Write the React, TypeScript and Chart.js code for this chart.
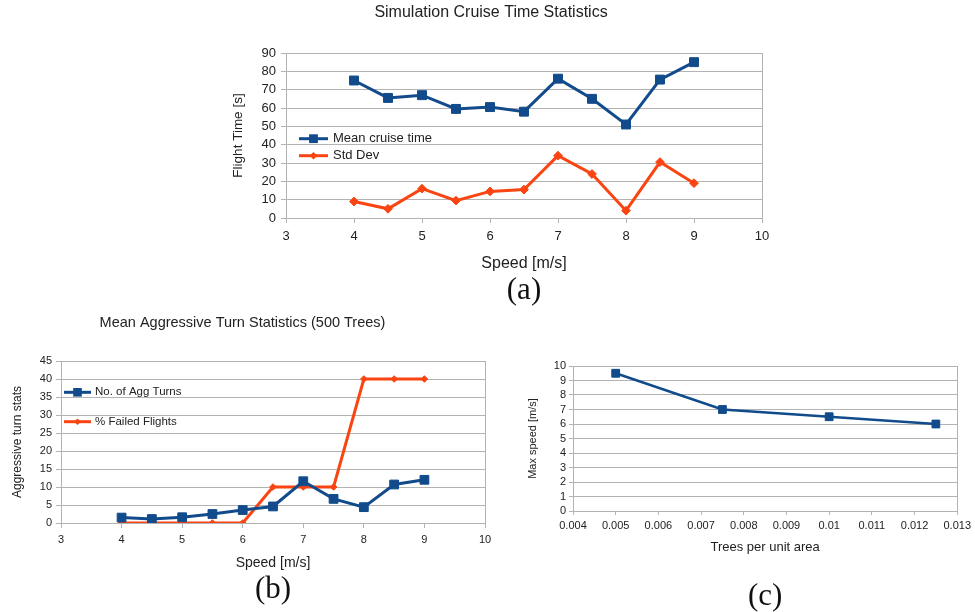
import React, { useEffect, useRef } from 'react';
import { Chart, registerables } from 'chart.js';

Chart.register(...registerables);

// ---------- data ----------
const speeds = [4, 4.5, 5, 5.5, 6, 6.5, 7, 7.5, 8, 8.5, 9];
const meanCruiseTime = [75, 65.5, 67, 59.5, 60.5, 58, 76, 65, 51, 75.5, 85];
const cruiseStdDev = [9, 5, 16, 9.5, 14.5, 15.5, 34, 24, 4, 30.5, 19];
const aggTurns = [1.5, 1.1, 1.6, 2.5, 3.6, 4.6, 11.6, 6.7, 4.4, 10.7, 12];
const failedFlights = [0, 0, 0, 0, 0, 10, 10, 10, 40, 40, 40];
const treeDensity = [0.005, 0.0075, 0.01, 0.0125];
const maxSpeed = [9.5, 7, 6.5, 6];

const titleA = 'Simulation Cruise Time Statistics';
const titleB = 'Mean Aggressive Turn Statistics (500 Trees)';
const seriesNamesA = ['Mean cruise time', 'Std Dev'];
const seriesNamesB = ['No. of Agg Turns', '% Failed Flights'];

// ---------- styles ----------
const SANS = "'Liberation Sans', Arial, sans-serif";
const SERIF = "'Liberation Serif', 'Times New Roman', serif";
const BLUE = '#114b8b';
const ORANGE = '#fa4512';
const GRID = '#b3b3b3';
const TEXT = '#222222';

Chart.defaults.font.family = SANS;

const pairs = (xs: number[], ys: number[]) => xs.map((x, i) => ({ x, y: ys[i] }));

const insideLegend = {
  id: 'insideLegend',
  afterDatasetsDraw(chart: any, _args: any, opts: any) {
    if (!opts || !opts.display) return;
    const { ctx, chartArea } = chart;
    chart.data.datasets.forEach((ds: any, i: number) => {
      const x0 = chartArea.left + opts.x;
      const y = chartArea.top + opts.y + i * opts.spacing;
      ctx.save();
      ctx.strokeStyle = ds.borderColor;
      ctx.lineWidth = ds.borderWidth;
      ctx.beginPath();
      ctx.moveTo(x0, y);
      ctx.lineTo(x0 + opts.lineLength, y);
      ctx.stroke();
      const cx = x0 + opts.lineLength / 2;
      const r = opts.markerSizes[i];
      ctx.fillStyle = ds.backgroundColor;
      ctx.beginPath();
      if (ds.pointStyle === 'rectRot') {
        ctx.moveTo(cx - r, y);
        ctx.lineTo(cx, y - r);
        ctx.lineTo(cx + r, y);
        ctx.lineTo(cx, y + r);
        ctx.closePath();
      } else {
        ctx.rect(cx - r, y - r, 2 * r, 2 * r);
      }
      ctx.fill();
      ctx.fillStyle = TEXT;
      ctx.font = `${opts.fontSize}px ${SANS}`;
      ctx.textBaseline = 'middle';
      ctx.textAlign = 'left';
      ctx.fillText(ds.label, x0 + opts.textOffset, y);
      ctx.restore();
    });
  },
};

function xGrid(tickLength: number) {
  return {
    color: (c: any) => {
      const n = c.chart.scales.x ? c.chart.scales.x.ticks.length : 0;
      return c.index === 0 || c.index === n - 1 ? GRID : 'rgba(0,0,0,0)';
    },
    tickColor: GRID,
    tickLength,
    lineWidth: 1,
  };
}

function series(label: string, xs: number[], ys: number[], color: string, style: string, radius: number, width: number) {
  return {
    label,
    data: pairs(xs, ys),
    borderColor: color,
    backgroundColor: color,
    borderWidth: width,
    pointStyle: style,
    pointRadius: radius,
    pointBorderWidth: 1,
    pointBackgroundColor: color,
    pointBorderColor: color,
    tension: 0,
  };
}

const configA: any = {
  type: 'line',
  data: {
    datasets: [
      series(seriesNamesA[0], speeds, meanCruiseTime, BLUE, 'rect', 6.3, 3),
      series(seriesNamesA[1], speeds, cruiseStdDev, ORANGE, 'rectRot', 4.4, 3),
    ],
  },
  options: {
    animation: false,
    responsive: false,
    layout: { padding: { left: 0, right: 18, top: 0, bottom: 0 } },
    plugins: {
      legend: { display: false },
      tooltip: { enabled: false },
      title: {
        display: true,
        text: titleA,
        color: TEXT,
        font: { family: SANS, size: 16, weight: 'normal' },
        padding: { top: 2.8, bottom: 31 },
      },
      subtitle: {
        display: true,
        text: '(a)',
        position: 'bottom',
        fullSize: false,
        color: '#111',
        font: { family: SERIF, size: 31, weight: 'normal', lineHeight: 1 },
        padding: { top: 2, bottom: 4 },
      },
      insideLegend: { display: true, x: 13, y: 85.7, spacing: 17, lineLength: 29, textOffset: 34, fontSize: 13, markerSizes: [4.4, 3.8] },
    },
    scales: {
      x: {
        type: 'linear',
        min: 3,
        max: 10,
        ticks: { stepSize: 1, autoSkip: false, color: TEXT, font: { family: SANS, size: 13 }, padding: 6 },
        grid: xGrid(5),
        border: { color: GRID },
        title: { display: true, text: 'Speed [m/s]', color: TEXT, font: { family: SANS, size: 16 }, padding: { top: 0, bottom: 0 } },
        afterFit: (s: any) => { s.height = 55; },
      },
      y: {
        type: 'linear',
        min: 0,
        max: 90,
        ticks: { stepSize: 10, autoSkip: false, color: TEXT, font: { family: SANS, size: 13 }, padding: 5 },
        grid: { color: GRID, tickColor: GRID, tickLength: 5 },
        border: { color: GRID },
        title: { display: true, text: 'Flight Time [s]', color: TEXT, font: { family: SANS, size: 13.5 }, padding: { top: 9.9, bottom: 0 } },
        afterFit: (s: any) => { s.width = 66; },
      },
    },
  },
  plugins: [insideLegend],
};

const configB: any = {
  type: 'line',
  data: {
    datasets: [
      series(seriesNamesB[0], speeds, aggTurns, BLUE, 'rect', 6.2, 3),
      series(seriesNamesB[1], speeds, failedFlights, ORANGE, 'rectRot', 3.3, 3),
    ],
  },
  options: {
    animation: false,
    responsive: false,
    layout: { padding: { left: 0, right: 15, top: 0, bottom: 0 } },
    plugins: {
      legend: { display: false },
      tooltip: { enabled: false },
      title: {
        display: true,
        text: titleB,
        color: TEXT,
        font: { family: SANS, size: 14.5, weight: 'normal' },
        padding: { top: 4.3, bottom: 29.3 },
      },
      subtitle: {
        display: true,
        text: '(b)',
        position: 'bottom',
        fullSize: false,
        color: '#111',
        font: { family: SERIF, size: 31, weight: 'normal', lineHeight: 1 },
        padding: { top: 2.5, bottom: 4.5 },
      },
      insideLegend: { display: true, x: 3, y: 31.3, spacing: 29.4, lineLength: 27, textOffset: 31, fontSize: 11.5, markerSizes: [4.3, 3.2] },
    },
    scales: {
      x: {
        type: 'linear',
        min: 3,
        max: 10,
        ticks: { stepSize: 1, autoSkip: false, color: TEXT, font: { family: SANS, size: 11 }, padding: 5.5 },
        grid: xGrid(5),
        border: { color: GRID },
        title: { display: true, text: 'Speed [m/s]', color: TEXT, font: { family: SANS, size: 14 }, padding: { top: 0, bottom: 0 } },
        afterFit: (s: any) => { s.height = 49; },
      },
      y: {
        type: 'linear',
        min: 0,
        max: 45,
        ticks: { stepSize: 5, autoSkip: false, color: TEXT, font: { family: SANS, size: 11 }, padding: 4 },
        grid: { color: GRID, tickColor: GRID, tickLength: 5 },
        border: { color: GRID },
        title: { display: true, text: 'Aggressive turn stats', color: TEXT, font: { family: SANS, size: 12 }, padding: { top: 10.8, bottom: 0 } },
        afterFit: (s: any) => { s.width = 61; },
      },
    },
  },
  plugins: [insideLegend],
};

const configC: any = {
  type: 'line',
  data: {
    datasets: [series('Max speed', treeDensity, maxSpeed, BLUE, 'rect', 5.5, 2.6)],
  },
  options: {
    animation: false,
    responsive: false,
    layout: { padding: { left: 0, right: 17, top: 26, bottom: 0 } },
    plugins: {
      legend: { display: false },
      tooltip: { enabled: false },
      title: { display: false },
      subtitle: {
        display: true,
        text: '(c)',
        position: 'bottom',
        fullSize: false,
        color: '#111',
        font: { family: SERIF, size: 31, weight: 'normal', lineHeight: 1 },
        padding: { top: 26, bottom: 0 },
      },
    },
    scales: {
      x: {
        type: 'linear',
        min: 0.004,
        max: 0.013,
        ticks: {
          stepSize: 0.001,
          autoSkip: false,
          color: TEXT,
          font: { family: SANS, size: 11 },
          padding: 4,
          callback: (v: any) => String(Number(Number(v).toFixed(4))),
        },
        grid: xGrid(4),
        border: { color: GRID },
        title: { display: true, text: 'Trees per unit area', color: TEXT, font: { family: SANS, size: 13 }, padding: { top: 0, bottom: 0 } },
        afterFit: (s: any) => { s.height = 44; },
      },
      y: {
        type: 'linear',
        min: 0,
        max: 10,
        ticks: { stepSize: 1, autoSkip: false, color: TEXT, font: { family: SANS, size: 11 }, padding: 3 },
        grid: { color: GRID, tickColor: GRID, tickLength: 4 },
        border: { color: GRID },
        title: { display: true, text: 'Max speed [m/s]', color: TEXT, font: { family: SANS, size: 11 }, padding: { top: 26.4, bottom: 0 } },
        afterFit: (s: any) => { s.width = 73; },
      },
    },
  },
};

function ChartCanvas({ left, top, width, height, config }: { left: number; top: number; width: number; height: number; config: any }) {
  const ref = useRef<HTMLCanvasElement>(null);
  useEffect(() => {
    if (!ref.current) return;
    const chart = new Chart(ref.current, config);
    return () => chart.destroy();
  }, [config]);
  return (
    <canvas
      ref={ref}
      width={width}
      height={height}
      style={{ position: 'absolute', left, top, width, height, display: 'block' }}
    />
  );
}

export default function App() {
  return (
    <div
      style={{
        position: 'fixed',
        left: 0,
        top: 0,
        width: 975,
        height: 612,
        background: '#ffffff',
        overflow: 'hidden',
      }}
    >
      <ChartCanvas left={220} top={0} width={560} height={310} config={configA} />
      <ChartCanvas left={0} top={310} width={500} height={300} config={configB} />
      <ChartCanvas left={500} top={340} width={475} height={272} config={configC} />
    </div>
  );
}
